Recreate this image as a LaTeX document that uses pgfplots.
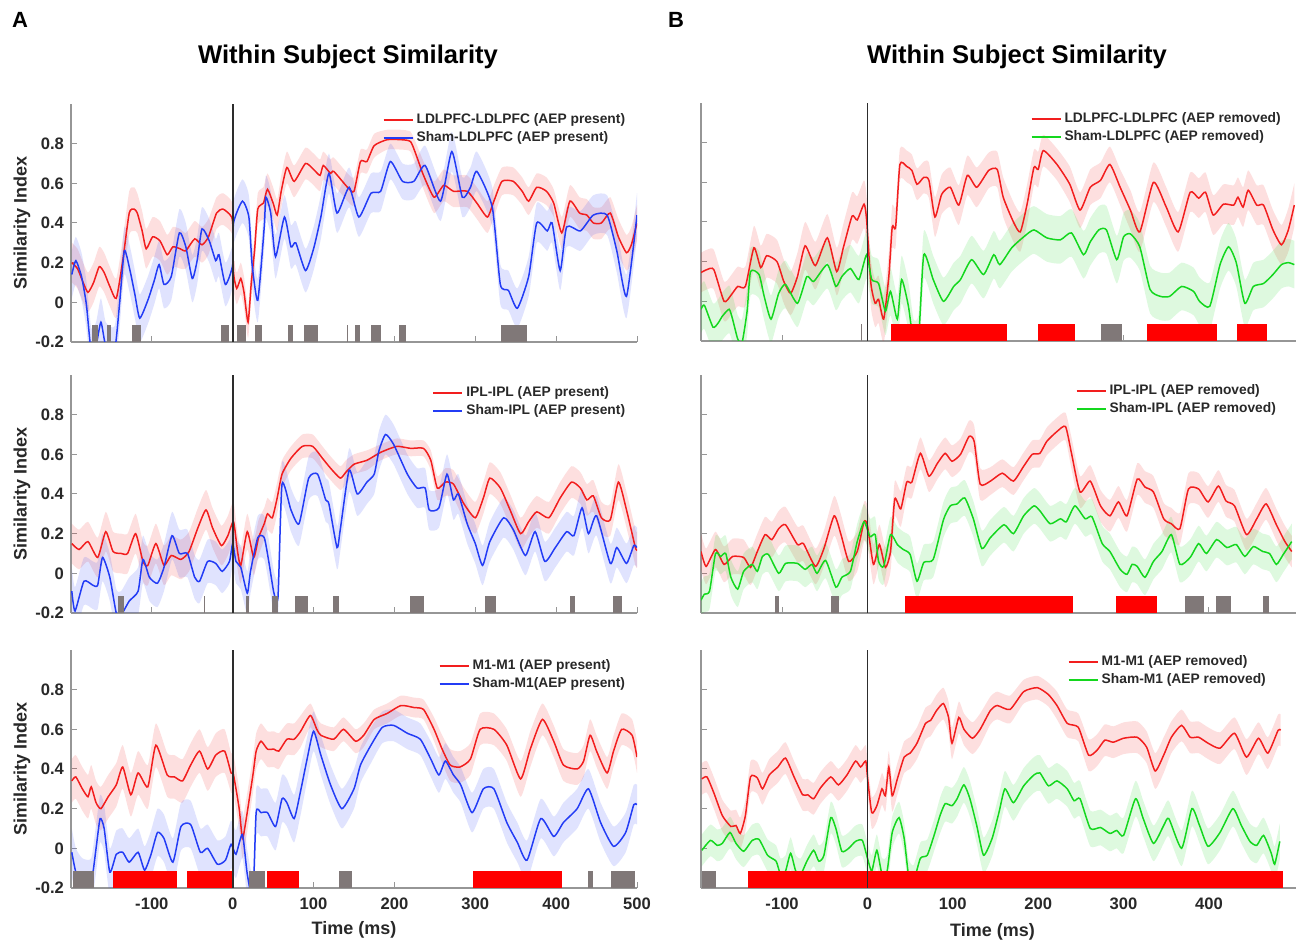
\documentclass[border=0pt]{standalone}
\usepackage{fontspec}
\setmainfont{Liberation Sans}
\usepackage{pgfplots}
\pgfplotsset{compat=1.18}
\usepackage{pgfplotstable}
\usepgfplotslibrary{fillbetween}

\definecolor{redl}{RGB}{242,30,30}
\definecolor{bluel}{RGB}{35,60,245}
\definecolor{greenl}{RGB}{20,215,30}
\definecolor{sigred}{RGB}{255,0,0}
\definecolor{siggray}{RGB}{128,120,120}
\definecolor{axgray}{RGB}{150,150,150}
\definecolor{txtgray}{RGB}{40,40,40}
\definecolor{zerocol}{RGB}{45,45,45}

% ---------------- data: x (ms), y (similarity), e (half width of shaded band)
\pgfplotstableread{
x y e
-199 0.20 0.10
-192 0.17 0.10
-185 0.10 0.10
-179 0.05 0.10
-172 0.10 0.10
-165 0.18 0.10
-159 0.15 0.10
-152 0.08 0.10
-144 0.02 0.10
-136 0.21 0.11
-128 0.45 0.11
-122 0.47 0.11
-118 0.45 0.10
-112 0.36 0.10
-107 0.27 0.10
-99 0.33 0.10
-90 0.31 0.10
-81 0.24 0.10
-74 0.28 0.10
-65 0.27 0.10
-58 0.26 0.09
-47 0.32 0.09
-38 0.29 0.09
-30 0.33 0.09
-20 0.45 0.08
-12 0.47 0.08
-3 0.44 0.08
0 0.40 0.08
1 0.15 0.08
5 0.07 0.08
10 0.12 0.08
14 0.05 0.08
19 -0.10 0.08
23 0.10 0.08
27 0.26 0.08
31 0.47 0.08
38 0.50 0.08
43 0.57 0.08
50 0.50 0.08
55 0.44 0.08
60 0.56 0.08
67 0.68 0.08
76 0.61 0.08
90 0.70 0.08
100 0.67 0.08
108 0.64 0.08
112 0.69 0.07
121 0.65 0.07
125 0.66 0.07
142 0.58 0.07
150 0.56 0.07
158 0.71 0.06
166 0.71 0.06
175 0.79 0.06
191 0.82 0.05
208 0.82 0.05
220 0.81 0.05
228 0.73 0.06
236 0.64 0.07
249 0.53 0.08
261 0.59 0.08
273 0.56 0.08
290 0.56 0.08
302 0.50 0.08
315 0.43 0.08
323 0.51 0.08
333 0.61 0.07
347 0.61 0.07
358 0.56 0.07
366 0.51 0.07
376 0.58 0.07
388 0.56 0.07
397 0.50 0.07
407 0.35 0.08
417 0.51 0.08
429 0.45 0.08
438 0.44 0.08
446 0.40 0.08
456 0.40 0.08
467 0.45 0.08
477 0.33 0.09
487 0.25 0.09
493 0.29 0.09
500 0.40 0.09
}\AtR
\pgfplotstableread{
x y e
-199 0.14 0.12
-194 0.21 0.12
-187 0.13 0.12
-181 -0.01 0.12
-175 -0.25 0.12
-169 -0.22 0.12
-163 -0.10 0.12
-157 -0.22 0.12
-146 -0.24 0.12
-140 -0.01 0.12
-134 0.26 0.12
-127 0.16 0.12
-121 0.04 0.12
-115 -0.08 0.12
-105 0.01 0.12
-97 0.11 0.12
-91 0.19 0.12
-85 0.09 0.12
-76 0.13 0.12
-66 0.35 0.12
-58 0.28 0.12
-50 0.12 0.12
-44 0.21 0.12
-38 0.37 0.11
-29 0.31 0.11
-21 0.21 0.11
-17 0.24 0.11
-9 0.09 0.11
0 0.19 0.11
1 0.40 0.11
12 0.51 0.11
20 0.43 0.11
24 0.19 0.11
31 0.01 0.11
39 0.38 0.11
41 0.53 0.11
47 0.45 0.11
53 0.23 0.11
64 0.43 0.11
72 0.28 0.11
78 0.30 0.11
90 0.16 0.11
100 0.27 0.11
109 0.43 0.11
119 0.65 0.10
129 0.45 0.10
144 0.58 0.10
156 0.43 0.10
171 0.55 0.10
183 0.56 0.10
195 0.71 0.09
210 0.61 0.09
224 0.61 0.09
238 0.69 0.10
257 0.51 0.10
271 0.76 0.10
284 0.53 0.10
294 0.58 0.10
302 0.66 0.10
321 0.48 0.10
331 0.09 0.10
341 0.06 0.10
352 -0.03 0.10
366 0.13 0.10
376 0.40 0.10
389 0.36 0.10
395 0.40 0.10
405 0.16 0.10
413 0.38 0.10
430 0.36 0.10
446 0.44 0.10
463 0.44 0.10
475 0.26 0.11
487 0.03 0.11
500 0.44 0.11
}\AtB
\pgfplotstableread{
x y e
-199 0.15 0.10
-190 0.12 0.10
-179 0.16 0.10
-167 0.08 0.10
-157 0.21 0.10
-148 0.11 0.10
-138 0.10 0.10
-130 0.10 0.10
-120 0.20 0.10
-111 0.06 0.10
-105 0.04 0.10
-95 0.15 0.10
-85 0.04 0.10
-76 0.09 0.10
-64 0.07 0.10
-54 0.11 0.10
-43 0.23 0.10
-33 0.32 0.10
-25 0.23 0.10
-14 0.14 0.10
-6 0.19 0.10
1 0.26 0.10
6 0.11 0.09
10 0.04 0.09
18 0.21 0.09
26 0.08 0.09
32 0.18 0.09
39 0.25 0.08
43 0.30 0.08
49 0.28 0.08
55 0.38 0.08
61 0.50 0.07
72 0.58 0.06
86 0.64 0.06
99 0.64 0.06
111 0.58 0.06
121 0.53 0.06
133 0.48 0.06
140 0.51 0.06
150 0.55 0.05
166 0.57 0.05
183 0.61 0.04
203 0.64 0.04
220 0.63 0.04
236 0.63 0.04
245 0.57 0.05
253 0.43 0.06
263 0.46 0.07
273 0.45 0.07
286 0.35 0.08
300 0.28 0.08
310 0.38 0.08
318 0.48 0.08
331 0.43 0.08
343 0.32 0.08
356 0.20 0.08
366 0.26 0.08
376 0.31 0.08
391 0.28 0.08
405 0.38 0.08
419 0.46 0.08
430 0.43 0.08
438 0.37 0.08
446 0.39 0.08
456 0.28 0.08
467 0.27 0.08
477 0.46 0.09
487 0.32 0.09
498 0.13 0.09
500 0.12 0.09
}\AmR
\pgfplotstableread{
x y e
-199 -0.09 0.12
-195 -0.19 0.12
-184 -0.04 0.12
-173 -0.06 0.12
-167 -0.06 0.12
-161 0.08 0.12
-152 -0.02 0.12
-144 -0.20 0.12
-138 -0.21 0.12
-128 -0.14 0.12
-117 -0.09 0.12
-111 0.07 0.12
-103 -0.02 0.12
-93 -0.05 0.12
-85 0.03 0.12
-75 0.19 0.12
-66 0.10 0.12
-56 0.10 0.12
-47 -0.02 0.11
-41 -0.04 0.11
-31 0.06 0.11
-21 0.05 0.11
-13 0.01 0.11
-4 0.06 0.11
0 0.15 0.11
4 0.06 0.11
10 0.03 0.11
18 -0.10 0.11
22 0.01 0.11
31 0.18 0.11
39 0.18 0.11
45 0.05 0.11
51 -0.10 0.11
56 -0.12 0.11
61 0.45 0.11
72 0.32 0.11
82 0.25 0.11
94 0.48 0.11
105 0.50 0.11
115 0.37 0.11
119 0.35 0.11
129 0.13 0.11
133 0.22 0.11
144 0.52 0.11
154 0.40 0.11
166 0.46 0.11
175 0.50 0.10
181 0.62 0.10
189 0.70 0.10
199 0.65 0.10
216 0.50 0.10
228 0.43 0.10
238 0.43 0.10
243 0.32 0.10
255 0.33 0.10
265 0.50 0.10
273 0.37 0.10
279 0.40 0.10
290 0.25 0.10
300 0.15 0.10
309 0.04 0.10
318 0.16 0.10
335 0.28 0.10
347 0.22 0.10
362 0.09 0.10
374 0.21 0.10
386 0.06 0.10
399 0.13 0.10
413 0.21 0.10
422 0.19 0.10
432 0.33 0.10
440 0.20 0.10
450 0.29 0.10
467 0.05 0.10
475 0.13 0.10
487 0.05 0.10
496 0.14 0.10
500 0.13 0.10
}\AmB
\pgfplotstableread{
x y e
-199 0.34 0.11
-194 0.36 0.11
-186 0.30 0.11
-179 0.26 0.11
-175 0.31 0.11
-169 0.23 0.11
-163 0.20 0.11
-154 0.26 0.11
-144 0.32 0.11
-136 0.41 0.11
-126 0.27 0.11
-117 0.38 0.11
-105 0.31 0.11
-95 0.52 0.11
-81 0.37 0.11
-72 0.36 0.11
-62 0.34 0.11
-52 0.42 0.11
-41 0.49 0.11
-31 0.40 0.11
-21 0.47 0.11
-10 0.49 0.11
-2 0.38 0.10
1 0.37 0.10
8 0.20 0.10
12 0.05 0.10
16 0.13 0.10
25 0.37 0.09
29 0.49 0.09
35 0.54 0.09
43 0.50 0.09
51 0.50 0.09
57 0.49 0.09
67 0.55 0.08
76 0.55 0.08
84 0.59 0.08
96 0.67 0.06
104 0.60 0.06
109 0.57 0.06
125 0.55 0.06
137 0.60 0.06
152 0.54 0.06
162 0.57 0.06
175 0.65 0.05
191 0.68 0.05
208 0.72 0.05
224 0.71 0.05
236 0.70 0.05
249 0.60 0.06
259 0.50 0.07
269 0.42 0.08
281 0.41 0.08
294 0.45 0.08
306 0.60 0.08
323 0.60 0.08
339 0.52 0.08
356 0.35 0.09
368 0.50 0.09
383 0.65 0.08
397 0.54 0.08
409 0.42 0.08
426 0.40 0.08
434 0.44 0.08
442 0.57 0.08
450 0.49 0.08
463 0.38 0.08
471 0.49 0.08
481 0.60 0.08
494 0.57 0.08
500 0.46 0.08
}\AbR
\pgfplotstableread{
x y e
-199 -0.02 0.12
-194 -0.12 0.12
-186 -0.17 0.12
-175 -0.17 0.12
-169 0.00 0.12
-164 0.15 0.12
-159 0.10 0.12
-152 -0.12 0.12
-144 -0.03 0.12
-136 -0.02 0.12
-128 -0.07 0.12
-117 -0.02 0.12
-109 -0.11 0.12
-101 -0.03 0.12
-93 0.08 0.12
-85 0.05 0.12
-74 -0.07 0.12
-64 0.11 0.12
-52 0.12 0.12
-40 -0.02 0.12
-31 0.00 0.12
-19 -0.08 0.12
-9 -0.06 0.12
-2 0.02 0.12
4 -0.03 0.12
12 0.07 0.12
18 -0.13 0.12
25 -0.25 0.12
29 0.18 0.12
35 0.18 0.12
43 0.18 0.12
53 0.11 0.12
61 0.25 0.12
67 0.23 0.12
76 0.15 0.12
84 0.29 0.12
92 0.45 0.11
100 0.59 0.10
109 0.47 0.10
121 0.32 0.10
135 0.20 0.10
150 0.30 0.10
158 0.42 0.09
171 0.52 0.09
185 0.61 0.08
199 0.62 0.08
216 0.58 0.08
232 0.55 0.08
245 0.45 0.09
255 0.37 0.09
263 0.44 0.09
273 0.37 0.09
282 0.32 0.09
296 0.18 0.10
310 0.30 0.10
323 0.30 0.10
339 0.13 0.10
352 0.03 0.10
364 -0.06 0.10
381 0.15 0.10
397 0.06 0.10
409 0.13 0.10
426 0.20 0.10
440 0.30 0.10
455 0.13 0.10
471 0.01 0.10
486 0.08 0.10
496 0.22 0.10
500 0.22 0.10
}\AbB
\pgfplotstableread{
x y e
-195 0.145 0.10
-188 0.16 0.10
-180 0.16 0.10
-168 0.00 0.10
-160 0.03 0.10
-152 0.075 0.10
-143 0.075 0.10
-133 0.27 0.11
-125 0.17 0.11
-118 0.23 0.11
-106 0.20 0.11
-98 0.10 0.11
-90 0.04 0.11
-82 0.125 0.12
-73 0.28 0.12
-61 0.18 0.12
-47 0.32 0.12
-36 0.15 0.12
-28 0.275 0.12
-18 0.43 0.12
-12 0.41 0.12
-4 0.49 0.12
-1 0.41 0.12
4 0.09 0.12
9 -0.01 0.12
13 0.01 0.12
19 -0.09 0.12
25 0.125 0.12
29 0.375 0.11
33 0.375 0.10
38 0.69 0.08
46 0.68 0.08
52 0.66 0.08
58 0.59 0.08
66 0.625 0.08
72 0.61 0.09
79 0.425 0.10
87 0.54 0.10
97 0.575 0.10
107 0.485 0.10
117 0.635 0.10
128 0.575 0.10
142 0.66 0.09
152 0.665 0.09
159 0.525 0.10
171 0.40 0.10
179 0.35 0.10
187 0.49 0.10
195 0.675 0.09
200 0.665 0.09
206 0.76 0.08
222 0.69 0.08
237 0.59 0.09
249 0.46 0.09
261 0.575 0.09
273 0.61 0.09
284 0.69 0.09
296 0.575 0.09
308 0.46 0.10
319 0.35 0.10
335 0.60 0.10
350 0.475 0.10
364 0.35 0.10
378 0.55 0.10
388 0.52 0.10
396 0.55 0.10
405 0.435 0.10
417 0.49 0.10
429 0.485 0.10
434 0.525 0.10
440 0.475 0.10
446 0.56 0.10
456 0.485 0.10
464 0.485 0.10
475 0.36 0.10
485 0.285 0.10
493 0.36 0.11
500 0.485 0.11
}\BtR
\pgfplotstableread{
x y e
-195 -0.04 0.12
-191 -0.02 0.12
-181 -0.13 0.12
-175 -0.11 0.12
-170 -0.075 0.12
-162 -0.04 0.12
-158 -0.09 0.12
-152 -0.19 0.12
-147 -0.21 0.12
-141 -0.05 0.12
-137 0.15 0.12
-127 0.135 0.12
-121 0.025 0.12
-113 -0.09 0.12
-104 0.04 0.12
-96 0.085 0.12
-82 -0.01 0.12
-71 0.125 0.12
-63 0.10 0.12
-47 0.185 0.12
-37 0.075 0.12
-30 0.125 0.12
-20 0.165 0.12
-10 0.11 0.12
-1 0.235 0.12
5 0.11 0.12
13 0.09 0.12
21 -0.05 0.12
27 0.05 0.12
35 -0.09 0.12
40 0.11 0.12
48 -0.025 0.12
54 -0.21 0.12
60 -0.18 0.12
66 0.235 0.12
77 0.11 0.12
89 0.00 0.12
101 0.075 0.12
109 0.11 0.12
122 0.21 0.12
136 0.135 0.12
148 0.235 0.12
155 0.185 0.12
169 0.27 0.12
183 0.325 0.12
195 0.36 0.12
210 0.32 0.12
226 0.31 0.12
239 0.345 0.12
253 0.235 0.12
261 0.30 0.12
271 0.36 0.12
280 0.36 0.12
292 0.21 0.12
300 0.325 0.12
308 0.34 0.12
319 0.275 0.12
331 0.06 0.12
343 0.025 0.12
354 0.025 0.12
368 0.075 0.12
382 0.05 0.12
389 0.00 0.12
401 -0.025 0.12
413 0.185 0.12
423 0.275 0.12
432 0.195 0.12
442 -0.01 0.12
452 0.075 0.12
464 0.09 0.12
475 0.135 0.12
485 0.185 0.12
493 0.195 0.12
500 0.185 0.12
}\BtG
\pgfplotstableread{
x y e
-195 0.11 0.09
-189 0.035 0.09
-178 0.12 0.09
-168 0.045 0.09
-158 0.085 0.09
-145 0.08 0.09
-137 0.03 0.09
-129 0.11 0.09
-120 0.195 0.09
-112 0.17 0.09
-104 0.225 0.09
-96 0.245 0.09
-82 0.145 0.09
-75 0.15 0.09
-61 0.035 0.09
-51 0.125 0.09
-39 0.29 0.10
-31 0.195 0.10
-22 0.06 0.10
-12 0.11 0.10
-4 0.26 0.10
0 0.24 0.10
7 0.045 0.10
14 0.145 0.10
21 0.03 0.10
27 0.11 0.10
32 0.375 0.09
39 0.325 0.09
46 0.46 0.08
52 0.46 0.08
62 0.605 0.08
72 0.49 0.08
82 0.555 0.08
91 0.605 0.08
99 0.565 0.08
109 0.60 0.08
119 0.69 0.08
125 0.665 0.08
132 0.45 0.08
144 0.465 0.07
158 0.505 0.07
171 0.465 0.07
183 0.54 0.07
193 0.60 0.07
202 0.605 0.07
210 0.665 0.07
222 0.715 0.07
232 0.74 0.07
239 0.605 0.08
249 0.41 0.08
261 0.465 0.08
273 0.34 0.08
284 0.29 0.08
294 0.36 0.08
304 0.29 0.08
316 0.475 0.08
325 0.435 0.08
335 0.41 0.08
347 0.275 0.08
356 0.25 0.08
366 0.225 0.08
376 0.425 0.08
388 0.425 0.08
399 0.36 0.08
411 0.44 0.08
420 0.365 0.08
430 0.34 0.08
444 0.195 0.08
456 0.275 0.08
467 0.35 0.08
479 0.245 0.08
489 0.16 0.08
497 0.11 0.08
}\BmR
\pgfplotstableread{
x y e
-195 -0.135 0.09
-191 -0.105 0.09
-185 -0.09 0.09
-178 0.10 0.09
-172 0.085 0.09
-166 0.10 0.09
-160 -0.02 0.09
-152 -0.08 0.09
-145 0.01 0.09
-135 0.045 0.09
-129 0.01 0.09
-123 0.085 0.09
-116 0.095 0.09
-104 0.00 0.09
-96 0.05 0.09
-82 0.05 0.09
-73 0.02 0.09
-65 0.045 0.09
-59 0.00 0.09
-49 0.065 0.09
-37 -0.07 0.09
-30 -0.02 0.09
-20 0.01 0.09
-12 0.16 0.09
-4 0.26 0.09
3 0.185 0.09
9 0.195 0.09
13 0.06 0.09
19 0.035 0.09
27 0.195 0.09
35 0.145 0.09
42 0.12 0.09
50 0.095 0.09
58 -0.04 0.09
66 0.055 0.09
77 0.07 0.09
89 0.27 0.09
97 0.34 0.09
105 0.35 0.09
114 0.38 0.09
124 0.275 0.09
134 0.125 0.09
144 0.18 0.09
160 0.245 0.09
171 0.20 0.09
183 0.29 0.09
195 0.34 0.09
202 0.315 0.09
214 0.25 0.09
226 0.275 0.09
233 0.26 0.09
243 0.34 0.09
255 0.275 0.09
263 0.285 0.09
275 0.15 0.09
284 0.11 0.09
296 0.02 0.09
304 -0.005 0.09
310 0.045 0.09
316 0.035 0.09
325 -0.02 0.09
335 0.06 0.09
345 0.11 0.09
356 0.195 0.09
366 0.045 0.09
378 0.08 0.09
388 0.15 0.09
397 0.10 0.09
409 0.17 0.09
421 0.13 0.09
432 0.145 0.09
442 0.085 0.09
452 0.135 0.09
463 0.11 0.09
471 0.10 0.09
479 0.045 0.09
487 0.095 0.09
497 0.16 0.09
}\BmG
\pgfplotstableread{
x y e
-194 0.35 0.08
-188 0.36 0.08
-180 0.28 0.08
-170 0.165 0.08
-160 0.11 0.08
-154 0.115 0.08
-149 0.075 0.08
-143 0.165 0.08
-137 0.36 0.08
-129 0.355 0.08
-123 0.30 0.08
-115 0.37 0.08
-105 0.41 0.08
-96 0.455 0.08
-86 0.36 0.08
-76 0.27 0.08
-70 0.27 0.08
-63 0.25 0.08
-55 0.305 0.08
-43 0.36 0.08
-34 0.32 0.08
-24 0.37 0.08
-14 0.44 0.08
-8 0.41 0.08
-2 0.44 0.08
0 0.36 0.08
5 0.18 0.08
11 0.215 0.08
17 0.30 0.08
21 0.265 0.08
25 0.41 0.08
29 0.265 0.08
35 0.35 0.08
43 0.46 0.08
50 0.48 0.08
58 0.53 0.08
68 0.63 0.08
74 0.645 0.08
81 0.695 0.08
89 0.73 0.08
95 0.66 0.08
99 0.53 0.08
107 0.66 0.08
113 0.60 0.08
123 0.555 0.08
132 0.60 0.08
144 0.695 0.07
152 0.72 0.07
167 0.70 0.07
183 0.79 0.06
199 0.81 0.06
212 0.775 0.06
222 0.72 0.07
234 0.63 0.07
247 0.61 0.07
259 0.47 0.08
269 0.495 0.08
278 0.545 0.08
288 0.535 0.08
300 0.555 0.08
316 0.56 0.08
327 0.51 0.08
337 0.39 0.09
347 0.47 0.09
356 0.56 0.08
368 0.62 0.08
378 0.56 0.08
388 0.56 0.08
399 0.53 0.08
413 0.505 0.08
430 0.58 0.08
444 0.46 0.09
458 0.555 0.08
469 0.48 0.08
481 0.595 0.08
484 0.595 0.08
}\BbR
\pgfplotstableread{
x y e
-194 -0.01 0.08
-184 0.04 0.08
-176 0.015 0.08
-170 0.025 0.08
-161 0.08 0.08
-154 0.025 0.08
-145 -0.015 0.08
-135 0.04 0.08
-127 0.045 0.08
-117 -0.035 0.08
-107 -0.065 0.08
-102 -0.13 0.08
-96 -0.115 0.08
-90 -0.025 0.08
-84 -0.115 0.08
-78 -0.13 0.08
-71 -0.065 0.08
-63 -0.01 0.08
-57 -0.065 0.08
-51 -0.035 0.08
-43 0.155 0.08
-37 0.10 0.08
-30 -0.015 0.08
-22 0.00 0.08
-14 0.035 0.08
-6 0.04 0.08
0 -0.05 0.08
5 -0.115 0.08
11 -0.01 0.08
17 -0.13 0.08
23 -0.115 0.08
29 0.08 0.08
37 0.155 0.08
43 0.05 0.08
48 -0.13 0.08
54 -0.165 0.08
62 -0.05 0.08
70 -0.035 0.08
78 0.065 0.08
85 0.165 0.09
91 0.225 0.09
99 0.215 0.09
105 0.25 0.09
113 0.32 0.09
120 0.25 0.09
128 0.115 0.09
136 -0.035 0.09
146 0.05 0.09
154 0.18 0.09
161 0.30 0.09
171 0.23 0.09
183 0.315 0.09
195 0.37 0.09
202 0.38 0.09
212 0.315 0.09
222 0.34 0.09
234 0.30 0.09
242 0.24 0.09
249 0.25 0.09
261 0.10 0.09
273 0.105 0.09
284 0.075 0.09
292 0.09 0.09
300 0.065 0.09
314 0.25 0.09
323 0.15 0.09
335 0.025 0.09
347 0.115 0.09
353 0.15 0.09
368 0.00 0.09
380 0.20 0.09
389 0.115 0.09
399 0.01 0.09
413 0.08 0.09
428 0.20 0.09
438 0.115 0.09
448 0.035 0.09
456 0.015 0.09
464 0.065 0.09
473 -0.025 0.09
477 -0.08 0.09
483 0.035 0.09
}\BbG

% ---------------- helpers
\newcommand{\band}[3]{%
  \addplot[draw=none, forget plot, smooth, tension=0.35, name path=U#3] table[x=x, y expr=\thisrow{y}+\thisrow{e}] {#1};
  \addplot[draw=none, forget plot, smooth, tension=0.35, name path=L#3] table[x=x, y expr=\thisrow{y}-\thisrow{e}] {#1};
  \addplot[fill=#2, fill opacity=0.14, draw=none, forget plot] fill between[of=U#3 and L#3];
}
\newcommand{\sig}[3]{%
  \addplot[fill=#1, draw=none, forget plot] coordinates {(#2,-0.2) (#2,-0.115) (#3,-0.115) (#3,-0.2)} -- cycle;
}
\newcommand{\zeroline}{%
  \addplot[color=zerocol, line width=0.8pt, forget plot] coordinates {(0,-0.2) (0,1.0)};
}
\newcommand{\legpair}[4]{%
  \addlegendimage{color=#1, line width=1pt}
  \addlegendentry{#2}
  \addlegendimage{color=#3, line width=1pt}
  \addlegendentry{#4}
}

\pgfplotsset{
  basepanel/.style={
    scale only axis, height=119pt, ymin=-0.2, ymax=1.0,
    axis x line*=bottom, axis y line*=left,
    axis line style={draw=axgray, line width=0.6pt},
    tick align=inside, major tick length=3pt,
    every tick/.style={draw=axgray, line width=0.5pt},
    ytick={-0.2,0,0.2,0.4,0.6,0.8},
    tick label style={font=\bfseries\fontsize{8.3}{9}\selectfont, text=txtgray},
    xticklabel style={yshift=-1.5pt},
    legend style={draw=none, fill=none, font=\bfseries\fontsize{6.9}{8}\selectfont,
      text=txtgray, row sep=-0.4pt, inner sep=0pt, nodes={inner sep=1.5pt}},
    legend cell align=left,
    legend image code/.code={\draw[##1] (0pt,0pt) -- (14.5pt,0pt);},
  },
  Apanel/.style={basepanel, width=283pt, xmin=-200, xmax=500,
    xtick={-100,0,100,200,300,400,500},
    yticklabels={-0.2,0,0.2,0.4,0.6,0.8},
    ylabel={Similarity Index},
    every axis y label/.style={at={(axis description cs:-0.0866,0.5)}, rotate=90, anchor=center,
      font=\bfseries\fontsize{9}{10}\selectfont, text=txtgray},
  },
  Bpanel/.style={basepanel, width=297.5pt, xmin=-195, xmax=502,
    xtick={-100,0,100,200,300,400},
    yticklabels={},
  },
  redline/.style={color=redl, line width=0.75pt, smooth, tension=0.35},
  blueline/.style={color=bluel, line width=0.75pt, smooth, tension=0.35},
  greenline/.style={color=greenl, line width=0.75pt, smooth, tension=0.35},
}

\begin{document}
\begin{tikzpicture}

% ===== A top
\begin{axis}[Apanel, at={(35.5pt,299.5pt)}, anchor=south west, xticklabels={},
  legend style={at={(axis description cs:0.985,0.975)}, anchor=north east}]
\band{\AtR}{redl}{atr}
\band{\AtB}{bluel}{atb}
\addplot[redline, forget plot] table[x=x,y=y] {\AtR};
\addplot[blueline, forget plot] table[x=x,y=y] {\AtB};
\sig{siggray}{-174}{-167}
\sig{siggray}{-155}{-150}
\sig{siggray}{-125}{-114}
\sig{siggray}{-15}{-4}
\sig{siggray}{5}{17}
\sig{siggray}{28}{36}
\sig{siggray}{68}{75}
\sig{siggray}{88}{106}
\sig{siggray}{141}{142.5}
\sig{siggray}{151}{157}
\sig{siggray}{171}{184}
\sig{siggray}{206}{214}
\sig{siggray}{332}{364}
\zeroline
\legpair{redl}{LDLPFC-LDLPFC (AEP present)}{bluel}{Sham-LDLPFC (AEP present)}
\end{axis}

% ===== A middle
\begin{axis}[Apanel, at={(35.5pt,164pt)}, anchor=south west, xticklabels={},
  legend style={at={(axis description cs:0.985,0.965)}, anchor=north east}]
\band{\AmR}{redl}{amr}
\band{\AmB}{bluel}{amb}
\addplot[redline, forget plot] table[x=x,y=y] {\AmR};
\addplot[blueline, forget plot] table[x=x,y=y] {\AmB};
\sig{siggray}{-142}{-135}
\sig{siggray}{-35.5}{-34.5}
\sig{siggray}{17}{20}
\sig{siggray}{48}{56}
\sig{siggray}{77}{93}
\sig{siggray}{124}{132}
\sig{siggray}{219}{236}
\sig{siggray}{312}{326}
\sig{siggray}{417}{423}
\sig{siggray}{470}{481}
\zeroline
\legpair{redl}{IPL-IPL (AEP present)}{bluel}{Sham-IPL (AEP present)}
\end{axis}

% ===== A bottom
\begin{axis}[Apanel, at={(35.5pt,26.5pt)}, anchor=south west,
  xticklabels={-100,0,100,200,300,400,500},
  xlabel={Time (ms)},
  every axis x label/.style={at={(axis description cs:0.5,-0.175)}, anchor=center,
    font=\bfseries\fontsize{9}{10}\selectfont, text=txtgray},
  legend style={at={(axis description cs:0.985,0.975)}, anchor=north east}]
\band{\AbR}{redl}{abr}
\band{\AbB}{bluel}{abb}
\addplot[redline, forget plot] table[x=x,y=y] {\AbR};
\addplot[blueline, forget plot] table[x=x,y=y] {\AbB};
\sig{siggray}{-198}{-171}
\sig{sigred}{-148}{-69}
\sig{sigred}{-57}{-1}
\sig{siggray}{20}{40}
\sig{sigred}{43}{82}
\sig{siggray}{131}{147}
\sig{sigred}{297}{407}
\sig{siggray}{440}{446}
\sig{siggray}{468}{498}
\zeroline
\legpair{redl}{M1-M1 (AEP present)}{bluel}{Sham-M1(AEP present)}
\end{axis}

% ===== B top
\begin{axis}[Bpanel, at={(350.5pt,300pt)}, anchor=south west, xticklabels={},
  legend style={at={(axis description cs:0.98,0.975)}, anchor=north east}]
\band{\BtR}{redl}{btr}
\band{\BtG}{greenl}{btg}
\addplot[redline, forget plot] table[x=x,y=y] {\BtR};
\addplot[greenline, forget plot] table[x=x,y=y] {\BtG};
\sig{siggray}{-8}{-6}
\sig{sigred}{27}{163}
\sig{sigred}{200}{243}
\sig{siggray}{274}{298}
\sig{sigred}{327}{409}
\sig{sigred}{433}{468}
\zeroline
\legpair{redl}{LDLPFC-LDLPFC (AEP removed)}{greenl}{Sham-LDLPFC (AEP removed)}
\end{axis}

% ===== B middle
\begin{axis}[Bpanel, at={(350.5pt,164pt)}, anchor=south west, xticklabels={},
  legend style={at={(axis description cs:0.972,0.975)}, anchor=north east}]
\band{\BmR}{redl}{bmr}
\band{\BmG}{greenl}{bmg}
\addplot[redline, forget plot] table[x=x,y=y] {\BmR};
\addplot[greenline, forget plot] table[x=x,y=y] {\BmG};
\sig{siggray}{-108}{-104}
\sig{siggray}{-43}{-33}
\sig{sigred}{44}{241}
\sig{sigred}{291}{339}
\sig{siggray}{372}{394}
\sig{siggray}{408}{426}
\sig{siggray}{463}{470}
\zeroline
\legpair{redl}{IPL-IPL (AEP removed)}{greenl}{Sham-IPL (AEP removed)}
\end{axis}

% ===== B bottom
\begin{axis}[Bpanel, at={(350.5pt,26.5pt)}, anchor=south west,
  xticklabels={-100,0,100,200,300,400},
  xlabel={Time (ms)},
  every axis x label/.style={at={(axis description cs:0.49,-0.185)}, anchor=center,
    font=\bfseries\fontsize{9}{10}\selectfont, text=txtgray},
  legend style={at={(axis description cs:0.955,0.99)}, anchor=north east}]
\band{\BbR}{redl}{bbr}
\band{\BbG}{greenl}{bbg}
\addplot[redline, forget plot] table[x=x,y=y] {\BbR};
\addplot[greenline, forget plot] table[x=x,y=y] {\BbG};
\sig{siggray}{-194}{-177}
\sig{sigred}{-140}{487}
\zeroline
\legpair{redl}{M1-M1 (AEP removed)}{greenl}{Sham-M1 (AEP removed)}
\end{axis}

\node[font=\bfseries\fontsize{11}{12}\selectfont, text=black] at (10pt,460.5pt) {A};
\node[font=\bfseries\fontsize{11}{12}\selectfont, text=black] at (338pt,460.5pt) {B};
\node[font=\bfseries\fontsize{12.8}{14}\selectfont, text=black] at (174pt,442pt) {Within Subject Similarity};
\node[font=\bfseries\fontsize{12.8}{14}\selectfont, text=black] at (508.5pt,442pt) {Within Subject Similarity};
\path (0,0) rectangle (651pt,470.5pt);
\end{tikzpicture}
\end{document}
